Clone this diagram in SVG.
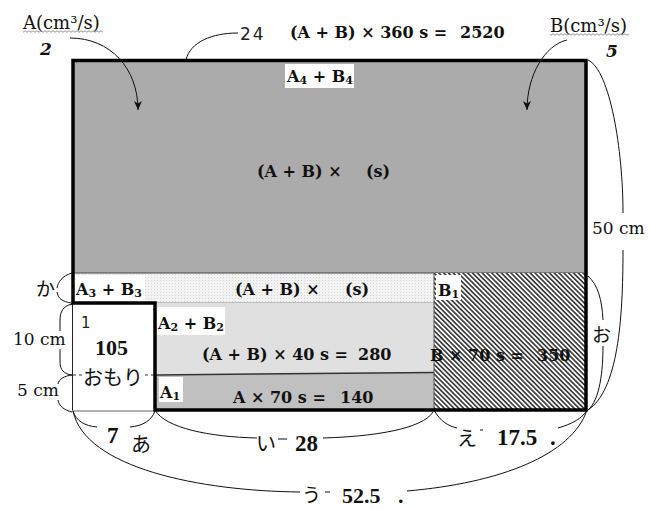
<svg xmlns="http://www.w3.org/2000/svg" width="650" height="510" viewBox="0 0 650 510">
<defs>
<style>
.eq{font-family:"DejaVu Serif",serif;font-weight:bold;font-size:16px;fill:#111}
.sub{font-size:11px}
.ser{font-family:"DejaVu Serif",serif;font-size:17px;fill:#111}
.num{font-family:"Liberation Serif",serif;font-weight:bold;font-size:23px;fill:#111}
.jp{font-family:"Noto Sans CJK JP",sans-serif;font-size:20px;fill:#111}
.gd{font-family:"DejaVu Sans",sans-serif;font-size:17px;fill:#222}
.bi{font-family:"DejaVu Serif",serif;font-weight:bold;font-style:italic;font-size:17px;fill:#111}
.ln{fill:none;stroke:#111;stroke-width:1}
.bg{fill:#fff}
</style>
<pattern id="hatch" width="3.4" height="3.4" patternUnits="userSpaceOnUse" patternTransform="rotate(-45)"><rect width="3.4" height="3.4" fill="#fff"/><line x1="1.7" y1="0" x2="1.7" y2="3.4" stroke="#333" stroke-width="1.6"/></pattern>
<pattern id="dots" width="3" height="3" patternUnits="userSpaceOnUse"><rect width="3" height="3" fill="#f3f3f3"/><rect x="1" y="1" width="1" height="1" fill="#d6d6d6"/></pattern>
<pattern id="wave" width="4" height="3" patternUnits="userSpaceOnUse"><path d="M0,1.5 Q1,0 2,1.5 T4,1.5" fill="none" stroke="#777" stroke-width="0.8"/></pattern>
<marker id="ah" markerWidth="10" markerHeight="10" refX="9" refY="4" orient="auto" markerUnits="userSpaceOnUse"><path d="M0,0 L9,4 L0,8 L2.5,4 Z" fill="#111"/></marker>
</defs>
<rect width="650" height="510" fill="#fff"/>

<g id="upper">
<rect x="72" y="60" width="514" height="213" fill="#ababab"/>
<rect class="bg" x="285" y="64" width="69" height="24"/>
<text class="eq" x="287" y="82">A<tspan class="sub" dy="2">4</tspan><tspan dy="-2"> + B</tspan><tspan class="sub" dy="2">4</tspan></text>
<text class="eq" x="257" y="177">(A + B) ×</text>
<text class="eq" x="366" y="177">(s)</text>
</g>

<g id="strip">
<rect x="72" y="273" width="362" height="30" fill="url(#dots)"/>
<line x1="72" y1="273" x2="586" y2="273" stroke="#444" stroke-width="1"/>
<line x1="155" y1="303" x2="434" y2="303" stroke="#888" stroke-width="1"/>
<rect class="bg" x="73" y="275" width="72" height="27"/>
<text class="eq" x="76" y="295">A<tspan class="sub" dy="2">3</tspan><tspan dy="-2"> + B</tspan><tspan class="sub" dy="2">3</tspan></text>
<text class="eq" x="235" y="295">(A + B) ×</text>
<text class="eq" x="345" y="295">(s)</text>
</g>

<g id="region-a2b2">
<rect x="155" y="303" width="279" height="71" fill="#e0e0e0"/>
<rect class="bg" x="157" y="307" width="68" height="28"/>
<text class="eq" x="158" y="329">A<tspan class="sub" dy="2">2</tspan><tspan dy="-2"> + B</tspan><tspan class="sub" dy="2">2</tspan></text>
<text class="eq" x="202" y="360">(A + B) × 40 s =</text>
<text class="eq" x="358" y="360">280</text>
</g>

<g id="region-a1">
<polygon points="155,375 434,372.5 434,410 155,410" fill="#c0c0c0"/>
<line x1="155" y1="375" x2="434" y2="372.5" stroke="#333" stroke-width="1.5"/>
<rect class="bg" x="159" y="377" width="24" height="25"/>
<text class="eq" x="160" y="398">A<tspan class="sub" dy="2">1</tspan></text>
<text class="eq" x="233" y="403">A × 70 s =</text>
<text class="eq" x="340" y="403">140</text>
</g>

<g id="region-b1">
<rect x="434" y="273" width="152" height="137" fill="url(#hatch)"/>
<line x1="434" y1="273" x2="434" y2="410" stroke="#555" stroke-width="1"/>
<rect class="bg" x="436" y="275" width="25" height="25"/>
<text class="eq" x="438" y="296">B<tspan class="sub" dy="2">1</tspan></text>
<text class="eq" x="430" y="361">B × 70 s =</text>
<text class="eq" x="537" y="361">350</text>
</g>

<g id="weight">
<rect x="72" y="303" width="83" height="108" fill="#fff"/>
<line x1="72.5" y1="303" x2="72.5" y2="411" stroke="#222" stroke-width="1"/>
<line x1="72" y1="411" x2="155" y2="411" stroke="#999" stroke-width="1.5"/>
<line x1="73" y1="375" x2="155" y2="375" stroke="#333" stroke-width="1" stroke-dasharray="3,3"/>
<rect class="bg" x="82" y="364" width="63" height="26"/>
<text class="gd" x="81" y="328" style="font-size:15px">1</text>
<text class="num" x="95" y="355" style="font-size:22px">105</text>
<text class="jp" x="83" y="385">おもり</text>
</g>

<g id="tank">
<path d="M73,60.5 H586 V410 H155 V303 H73 Z" fill="none" stroke="#000" stroke-width="3.5"/>
</g>

<g id="label-a">
<text class="ser" x="23" y="29" style="font-size:18px">A(cm³/s)</text>
<rect x="23" y="30" width="80" height="3" fill="url(#wave)"/>
<text class="bi" x="40" y="55">2</text>
</g>

<g id="label-b">
<text class="ser" x="550" y="32" style="font-size:18px">B(cm³/s)</text>
<rect x="550" y="33" width="79" height="3" fill="url(#wave)"/>
<text class="bi" x="606" y="57">5</text>
</g>

<g id="label-total">
<text class="gd" x="240" y="40" style="letter-spacing:2px">24</text>
<text class="eq" x="290" y="38">(A + B) × 360 s =</text>
<text class="eq" x="460" y="38">2520</text>
</g>

<g id="dims">
<text class="jp" x="36" y="296" style="font-size:19px">か</text>
<text class="ser" x="13" y="345">10 cm</text>
<text class="ser" x="17" y="396">5 cm</text>
<text class="ser" x="592" y="234">50 cm</text>
<text class="jp" x="592" y="342" style="font-size:19px">お</text>
<text class="num" x="107" y="443">7</text>
<text class="jp" x="131" y="452">あ</text>
<text class="jp" x="256" y="451">い</text>
<text class="num" x="295" y="451">28</text>
<text class="jp" x="457" y="446">え</text>
<text class="num" x="497" y="445">17.5</text>
<text class="num" x="550" y="445">.</text>
<text class="jp" x="302" y="502" style="font-size:19px">う</text>
<text class="num" x="342" y="503" style="font-size:22px">52.5</text>
<text class="num" x="398" y="503" style="font-size:22px">.</text>
</g>

<g id="connectors">
<path class="ln" d="M70,38 C110,38 138,68 138,110" stroke-width="1.3" marker-end="url(#ah)"/>
<path class="ln" d="M567,40 C545,45 527,75 527,110" stroke-width="1.3" marker-end="url(#ah)"/>
<path class="ln" d="M186,60 C190,42 212,33 238,33"/>
<path class="ln" d="M588,60 C610,70 623,150 623,213 M623,250 C623,320 618,390 588,410"/>
<path class="ln" d="M588,276 C598,285 602,300 603,320 M603,346 C603,370 600,400 588,410"/>
<path class="ln" d="M72,273 C62,276 58,282 57,288 M57,292 C58,298 62,302 72,303"/>
<path class="ln" d="M72,304 C63,306 60,312 60,320 L60,331 M60,349 L60,362 C60,370 64,374 72,375"/>
<path class="ln" d="M72,375 C64,376 59,379 58,384 M58,400 C59,406 64,410 72,412"/>
<path class="ln" d="M73,411 C76,421 85,426 97,427 M130,427 C143,426 152,420 155,411"/>
<path class="ln" d="M155,410 C165,428 210,437 257,438 M278,439 L287,439 M323,438 C390,436 428,425 434,410"/>
<path class="ln" d="M434,410 C440,421 448,426 457,428 M480,430 L483,430 M558,428 C572,424 583,418 587,410"/>
<path class="ln" d="M73,411 C85,468 200,491 300,492 M325,492 L330,492 M407,491 C500,483 572,455 587,410"/>
</g>
</svg>
